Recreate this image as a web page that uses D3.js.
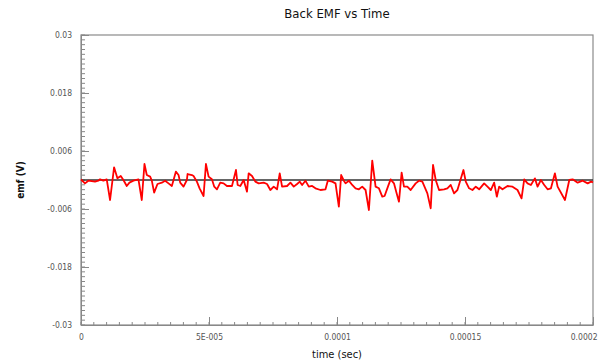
<!DOCTYPE html>
<html>
<head>
<meta charset="utf-8">
<script src="https://cdn.jsdelivr.net/npm/d3@7"></script>
<style>
  html, body { margin: 0; padding: 0; background: #fff; }
  svg { display: block; }
  text { font-family: "DejaVu Sans Condensed", "DejaVu Sans", sans-serif; font-stretch: condensed; }
  .tick text { font-family: "Liberation Sans Narrow", "DejaVu Sans Condensed", sans-serif; }
</style>
</head>
<body>
<svg id="chart" width="600" height="362"></svg>
<script>
// ---- data ----
const chartTitle = "Back EMF vs Time";
const xLabel = "time (sec)";
const yLabel = "emf (V)";
const xTickValues = [0, 5e-5, 1e-4, 1.5e-4, 2e-4];
const xTickLabels = ["0", "5E-005", "0.0001", "0.00015", "0.0002"];
const yTickValues = [0.03, 0.018, 0.006, -0.006, -0.018, -0.03];
const yTickLabels = ["0.03", "0.018", "0.006", "-0.006", "-0.018", "-0.03"];
// time in microseconds
const timeUs = [0, 1.57, 2.87, 5.48, 6.78, 7.44, 8.74, 10.05, 11.35, 12.92, 14.22, 15.53, 16.57, 17.87, 18.92, 20.48, 22.44, 23.74, 24.79, 25.70,
  27.01, 27.66, 28.57, 29.88, 31.57, 32.88, 34.18, 35.49, 37.05, 38.10, 38.75, 40.05, 41.36, 41.62, 43.32, 43.97, 45.27, 46.32, 47.88, 48.80,
  49.84, 51.14, 52.06, 53.10, 54.40, 55.71, 57.01, 58.97, 60.54, 61.19, 62.23, 63.54, 64.84, 65.49, 66.80, 68.10, 69.41, 71.36, 72.67, 73.97,
  75.28, 76.58, 77.63, 78.54, 80.50, 81.80, 83.11, 84.41, 85.46, 86.37, 87.67, 88.98, 90.28, 91.59, 93.54, 95.50, 96.41, 98.11, 99.42, 100.72,
  101.63, 102.68, 103.33, 104.63, 105.94, 107.24, 108.55, 109.85, 111.16, 112.46, 113.77, 115.07, 116.38, 117.68, 118.59, 119.90, 120.94, 122.25, 123.29, 124.20,
  125.25, 126.16, 127.47, 128.77, 130.73, 132.03, 133.34, 135.30, 136.60, 137.51, 138.56, 139.86, 141.82, 143.12, 144.43, 145.73, 147.04, 149.39, 150.30, 151.60,
  152.91, 154.21, 155.52, 157.47, 158.78, 160.08, 161.39, 162.43, 163.34, 164.65, 166.61, 168.56, 170.52, 172.09, 173.13, 174.43, 175.74, 177.30, 178.35, 179.65,
  180.96, 182.26, 183.57, 185.13, 186.17, 189.05, 190.74, 192.05, 194.01, 195.96, 197.92, 199.22, 200];
// emf in millivolts
const emfMv = [0.1, -0.69, -0.14, -0.34, -0.14, 0.14, -0.14, 0.14, -4.14, 2.62, 0.34, 0.83, 0, -1.24, -0.55, -0.14, 0.14, -4.14, 3.31, 1.03,
  0.69, -0.14, -2.62, -0.83, -0.55, -0.14, -0.69, -1.24, 1.72, 1.03, -0.55, -1.38, 0, 1.24, 1.03, 0.83, -0.34, -1.72, -3.31, 3.31,
  0.69, 0.14, -1.38, -1.93, -0.55, -0.69, -1.24, -1.24, 2.07, -1.03, -1.24, 0, -2.41, 1.38, 0.83, -0.34, -0.69, -0.55, -0.83, -2.07,
  -1.38, -1.93, 1.38, -1.38, -1.24, -0.55, -1.38, -0.83, -0.34, -1.03, -0.14, -1.38, -1.24, -1.72, -2.07, -1.93, -0.14, -0.34, -0.69, -5.52,
  1.03, -0.14, -0.69, -0.14, -1.03, -1.72, -1.93, -1.38, -2.07, -6.21, 4.0, -1.38, -1.72, -3.45, -3.31, -1.38, 0.14, -0.69, -2.76, -4.48,
  1.52, -1.38, -1.38, -2.07, -0.69, -0.14, -0.34, -2.76, -5.86, 3.10, 0, -2.07, -1.93, -1.72, -1.03, -2.76, -2.07, 2.07, -0.34, -1.72,
  -2.07, -1.38, -1.93, -0.69, -1.38, -2.07, -0.55, -3.45, -1.38, -1.93, -1.24, -1.38, -2.07, -3.79, 0.14, -0.69, -1.03, 0.34, -1.38, 0,
  -1.03, -1.93, -1.72, 1.38, -1.38, -4.14, 0, 0.14, -0.55, -0.14, -0.69, -0.34, -0.5];

// ---- layout ----
const svg = d3.select("#chart");
const mLeft = 81, mRight = 593, mTop = 35, mBottom = 325;
const x = d3.scaleLinear().domain([0, 2e-4]).range([mLeft, mRight]);
const y = d3.scaleLinear().domain([-0.03, 0.03]).range([mBottom, mTop]);

// title
svg.append("text").attr("x", (mLeft + mRight) / 2).attr("y", 18)
  .attr("text-anchor", "middle").attr("font-size", 13).attr("fill", "#111")
  .text(chartTitle);

// frame
svg.append("rect").attr("x", mLeft).attr("y", mTop)
  .attr("width", mRight - mLeft).attr("height", mBottom - mTop)
  .attr("fill", "none").attr("stroke", "#8a8a8a").attr("stroke-width", 1.2);

// minor ticks
const yMinor = d3.range(-30, 31, 1).map(d => d / 1000);
svg.append("g").selectAll("line").data(yMinor).join("line")
  .attr("x1", mLeft).attr("x2", mLeft + 4)
  .attr("y1", d => y(d)).attr("y2", d => y(d))
  .attr("stroke", "#888").attr("stroke-width", 1);
const xMinor = d3.range(0, 41, 1).map(d => d * 5e-6);
svg.append("g").selectAll("line").data(xMinor).join("line")
  .attr("x1", d => x(d)).attr("x2", d => x(d))
  .attr("y1", mBottom).attr("y2", mBottom - 3)
  .attr("stroke", "#888").attr("stroke-width", 1);

// major axes
const yAxis = d3.axisLeft(y).tickValues(yTickValues)
  .tickFormat((d, i) => yTickLabels[i]).tickSizeInner(-8).tickSizeOuter(0).tickPadding(9);
const gy = svg.append("g").attr("transform", `translate(${mLeft},0)`).call(yAxis);
gy.select(".domain").attr("stroke", "#888");
gy.selectAll(".tick line").attr("stroke", "#888");
gy.selectAll(".tick text").attr("font-size", 8.5).attr("fill", "#555");

const xAxis = d3.axisBottom(x).tickValues(xTickValues)
  .tickFormat((d, i) => xTickLabels[i]).tickSizeInner(-8).tickSizeOuter(0).tickPadding(9);
const gx = svg.append("g").attr("transform", `translate(0,${mBottom})`).call(xAxis);
gx.select(".domain").attr("stroke", "#888");
gx.selectAll(".tick line").attr("stroke", "#888");
gx.selectAll(".tick text").attr("font-size", 8.5).attr("fill", "#555");
gx.selectAll(".tick text").filter((d, i) => i === xTickValues.length - 1)
  .attr("text-anchor", "end").attr("dx", 4);

// axis titles
svg.append("text").attr("x", (mLeft + mRight) / 2).attr("y", 358)
  .attr("text-anchor", "middle").attr("font-size", 11).attr("fill", "#111")
  .text(xLabel);
svg.append("text").attr("transform", `translate(24,${(mTop + mBottom) / 2}) rotate(-90)`)
  .attr("text-anchor", "middle").attr("font-size", 10).attr("font-weight", "bold").attr("fill", "#111")
  .text(yLabel);

// zero line
svg.append("line").attr("x1", mLeft).attr("x2", mRight)
  .attr("y1", y(0)).attr("y2", y(0))
  .attr("stroke", "#333").attr("stroke-width", 1.3);

// signal
const data = timeUs.map((t, i) => ({ t: t * 1e-6, v: emfMv[i] * 1e-3 }));
svg.append("path").datum(data)
  .attr("fill", "none").attr("stroke", "#ff0000").attr("stroke-width", 1.8)
  .attr("stroke-linejoin", "round")
  .attr("d", d3.line().x(d => x(d.t)).y(d => y(d.v)));
</script>
</body>
</html>
